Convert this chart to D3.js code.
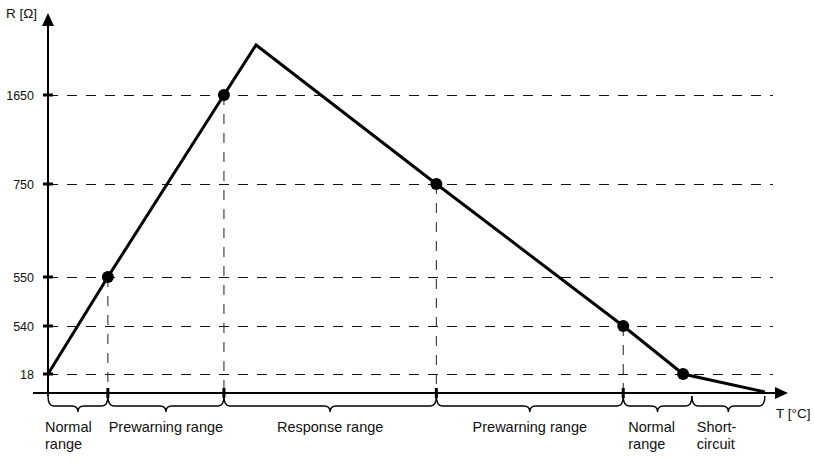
<!DOCTYPE html>
<html><head><meta charset="utf-8">
<script src="https://cdn.jsdelivr.net/npm/d3@7"></script>
<style>body{margin:0;background:#fff}svg{display:block}text{font-family:"Liberation Sans",Arial,sans-serif;fill:#111}</style>
</head><body>
<svg id="c" width="815" height="471"></svg>
<script>
// Data (schematic, arbitrary temperature units)
const curveT = [0, 8.2, 24.1, 28.5, 53.2, 78.8, 87.0, 98.2];
const curveR = [18, 550, 1650, 2000, 750, 540, 18, 1];
const markerT = [8.2, 24.1, 53.2, 78.8, 87.0];
const markerR = [550, 1650, 750, 540, 18];
const yTickValues = [18, 540, 550, 750, 1650];
const yTickLabels = ["18", "540", "550", "750", "1650"];
const rangeBounds = [0, 8.2, 24.1, 53.2, 78.8, 88.2, 98.2];
const rangeLabels = [["Normal","range"], ["Prewarning range"], ["Response range"], ["Prewarning range"], ["Normal","range"], ["Short-","circuit"]];
const rangeAlign = ["start","middle","middle","middle","start","start"];
const tickT = [8.2, 24.1, 53.2, 78.8];

const svg = d3.select("#c");
const x = d3.scaleLinear().domain([0, 100]).range([48, 778]);
const y = d3.scaleLinear().domain([0, 18, 540, 550, 750, 1650, 2000]).range([393, 374, 326, 277, 184, 95, 45]);
const y0 = y(0), x0 = x(0);
const dashEnd = x(99.3);

// horizontal dashed grid
svg.append("g").selectAll("line").data(yTickValues).join("line")
  .attr("x1", x0).attr("x2", dashEnd).attr("y1", d => y(d) + 0.5).attr("y2", d => y(d) + 0.5)
  .attr("stroke", "#111").attr("stroke-width", 1.2).attr("stroke-dasharray", "10,9");

// vertical dashed lines from markers
const vIdx = [0,1,2,3];
svg.append("g").selectAll("line").data(vIdx).join("line")
  .attr("x1", i => x(markerT[i])).attr("x2", i => x(markerT[i]))
  .attr("y1", i => y(markerR[i])).attr("y2", y0)
  .attr("stroke", "#333").attr("stroke-width", 1.1).attr("stroke-dasharray", "10,9");

// axes
svg.append("line").attr("x1", 33).attr("x2", x(100)).attr("y1", y0).attr("y2", y0).attr("stroke", "#000").attr("stroke-width", 2);
svg.append("line").attr("x1", x0).attr("x2", x0).attr("y1", 22).attr("y2", y0 + 3).attr("stroke", "#000").attr("stroke-width", 2);
svg.append("path").attr("d", `M${x0},13 L${x0-6},26 L${x0+6},26 Z`).attr("fill", "#000");
const xe = x(100) + 10;
svg.append("path").attr("d", `M${xe},${y0} L${xe-13},${y0-6} L${xe-13},${y0+6} Z`).attr("fill", "#000");

// y ticks
const yAxis = d3.axisLeft(y).tickValues(yTickValues).tickFormat((d,i) => yTickLabels[i]).tickSize(0).tickPadding(14);
const gy = svg.append("g").attr("transform", `translate(${x0},0)`).call(yAxis);
gy.select(".domain").remove();
gy.selectAll("text").style("font-size", "12.5px").attr("fill", "#111").attr("font-family", "Liberation Sans, Arial, sans-serif");
svg.append("g").selectAll("line").data(yTickValues).join("line")
  .attr("x1", x0 - 5).attr("x2", x0 + 5).attr("y1", d => y(d)).attr("y2", d => y(d))
  .attr("stroke", "#000").attr("stroke-width", 3);

// x ticks
svg.append("g").selectAll("line").data(tickT).join("line")
  .attr("x1", d => x(d)).attr("x2", d => x(d)).attr("y1", y0 - 5).attr("y2", y0 + 5)
  .attr("stroke", "#000").attr("stroke-width", 3);

// curve
svg.append("path").datum(curveT.map((t,i) => [t, curveR[i]]))
  .attr("d", d3.line().x(d => x(d[0])).y(d => y(d[1])))
  .attr("fill", "none").attr("stroke", "#000").attr("stroke-width", 3).attr("stroke-linejoin", "miter");

// markers
svg.append("g").selectAll("circle").data(markerT).join("circle")
  .attr("cx", d => x(d)).attr("cy", (d,i) => y(markerR[i])).attr("r", 6).attr("fill", "#000");

// braces
const bTop = y0 + 3, bMid = y0 + 13, bTip = y0 + 19;
const braces = d3.range(rangeBounds.length - 1).map(i => [x(rangeBounds[i]), x(rangeBounds[i+1])]);
svg.append("g").selectAll("path").data(braces).join("path")
  .attr("d", ([a,b]) => {
    const m = (a + b) / 2, r = 6;
    return `M${a},${bTop} Q${a},${bMid} ${a+r},${bMid} L${m-r},${bMid} Q${m},${bMid} ${m},${bTip} Q${m},${bMid} ${m+r},${bMid} L${b-r},${bMid} Q${b},${bMid} ${b},${bTop}`;
  })
  .attr("fill", "none").attr("stroke", "#000").attr("stroke-width", 1.4);

// range labels
const lab = svg.append("g").selectAll("text").data(braces).join("text")
  .attr("text-anchor", (d,i) => rangeAlign[i])
  .attr("x", ([a,b], i) => rangeAlign[i] === "middle" ? (a+b)/2 : a + (i === 0 ? -3 : 5))
  .attr("y", 432).style("font-size", "14.5px");
lab.each(function(d, i) {
  const t = d3.select(this);
  rangeLabels[i].forEach((s, k) => t.append("tspan").attr("x", t.attr("x")).attr("dy", k ? 17 : 0).text(s));
});

// axis titles
svg.append("text").attr("x", 6).attr("y", 18).style("font-size", "13.5px").text("R [Ω]");
svg.append("text").attr("x", 776).attr("y", 418).style("font-size", "13.5px").text("T [°C]");
</script>
</body></html>
